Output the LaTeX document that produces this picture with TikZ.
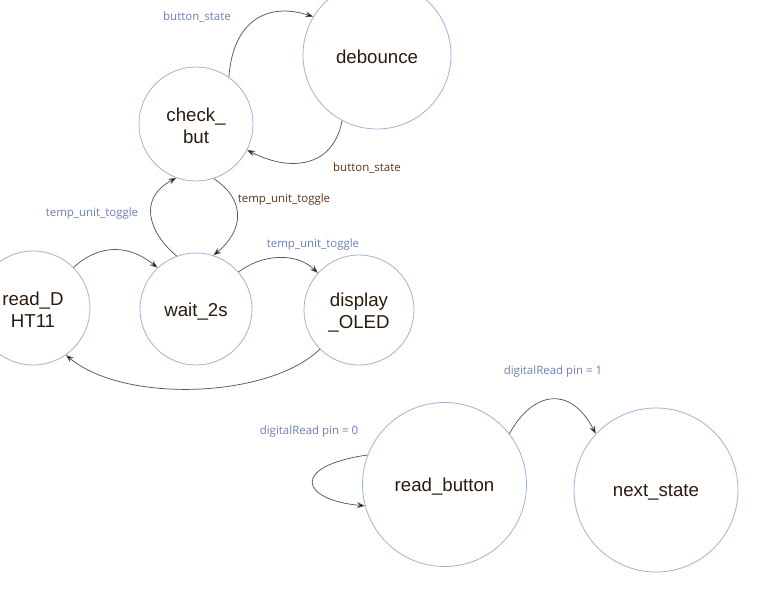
\documentclass[tikz,border=0pt]{standalone}
\usepackage{fontspec}
\setmainfont{Liberation Sans}
\newfontfamily\lblfont{Open Sans}
\usetikzlibrary{arrows.meta}
\definecolor{circ}{HTML}{9DB3D8}
\definecolor{lblblue}{HTML}{6C7FB8}
\definecolor{lblbrown}{HTML}{5A3319}
\definecolor{txt}{HTML}{2B1B0E}
\definecolor{edge}{HTML}{555555}
\tikzset{
  state/.style={circle,draw=circ,line width=0.6pt,inner sep=0pt},
  stext/.style={text=txt,align=center,font=\fontsize{14}{16.5}\selectfont,yshift=-1.6pt},
  conn/.style={draw=edge,line width=0.55pt,-{Stealth[length=6pt,width=4.5pt,fill=black]}},
  lblb/.style={text=lblblue,font=\lblfont\fontsize{8.6}{10}\selectfont,inner sep=0pt},
  lblr/.style={text=lblbrown,font=\lblfont\fontsize{8.6}{10}\selectfont,inner sep=0pt},
}
\begin{document}
\begin{tikzpicture}[x=0.75pt,y=-0.75pt]
\useasboundingbox (0,0) rectangle (768,593);
\fill[white] (0,0) rectangle (768,593);
\node[state,minimum size=85.5pt,label={[stext]center:check\_\\but}] (check) at (196,124) {};
\node[state,minimum size=111pt,label={[stext]center:debounce}] (deb) at (377,55) {};
\node[state,minimum size=85.5pt,label={[stext]center:read\_D\\HT11}] (dht) at (33,308) {};
\node[state,minimum size=84pt,label={[stext]center:wait\_2s}] (wait) at (196,309) {};
\node[state,minimum size=82.5pt,label={[stext]center:display\\\_OLED}] (oled) at (359,310) {};
\node[state,minimum size=123pt,label={[stext]center:read\_button}] (rb) at (444.5,484.5) {};
\node[state,minimum size=123pt,label={[stext]center:next\_state}] (ns) at (656,490) {};

\draw[conn] (check.55) .. controls (233,20) and (268,2) .. (deb.149);
\draw[conn] (deb.242) .. controls (333,168) and (290,172) .. (check.-27);
\draw[conn] (wait.110) .. controls (148,232) and (138,198) .. (check.250);
\draw[conn] (check.-72) .. controls (246,200) and (244,230) .. (wait.72);
\draw[conn] (dht.45.7) .. controls (100,243) and (130,245) .. (wait.133);
\draw[conn] (wait.41) .. controls (262,254) and (296,252) .. (oled.138);
\draw[conn] (oled.225) .. controls (270,398) and (125,404) .. (dht.-55);
\draw[conn] (rb.159.5) .. controls (290,466) and (300,500) .. (rb.195);
\draw[conn] (rb.38) .. controls (532,392) and (570,384) .. (ns.137);

\node[lblb] (l1) at (197,17.5) {button\_state};
\node[lblr] (l2) at (367,168.5) {button\_state};
\node[lblb] (l3) at (92,213.5) {temp\_unit\_toggle};
\node[lblr] (l4) at (284,199.5) {temp\_unit\_toggle};
\node[lblb] (l5) at (313,244.5) {temp\_unit\_toggle};
\node[lblb] (l6) at (553,371.5) {digitalRead pin = 1};
\node[lblb] (l7) at (309,431.5) {digitalRead pin = 0};
\end{tikzpicture}
\end{document}
